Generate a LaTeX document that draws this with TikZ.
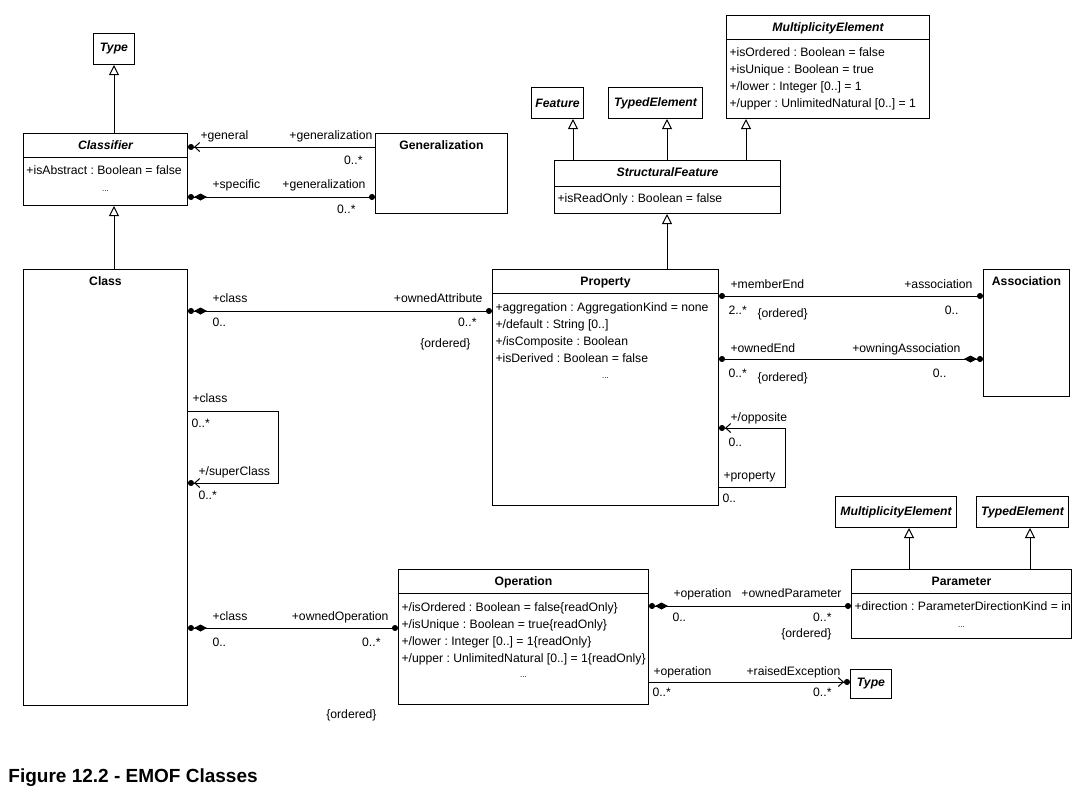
\documentclass[tikz,border=0pt]{standalone}
\usepackage{fontspec}
\setmainfont{Liberation Sans}
\usetikzlibrary{arrows.meta, positioning, calc}
\newcommand{\umlfont}{\fontsize{12.2}{14}\selectfont}
\frenchspacing

\tikzset{
  umlbox/.style={draw, anchor=north west, inner sep=0pt},
  ctitle/.style={font=\umlfont\bfseries, inner sep=0pt, text height=8.6pt, text depth=0pt},
  attr/.style={font=\umlfont, anchor=west, inner sep=0pt, text height=8.6pt, text depth=0pt},
  lblw/.style={attr, anchor=west},
  lble/.style={attr, anchor=east},
  inherit/.style={-{Triangle[open, length=10pt, width=10pt]}},
  umlown/.tip={Circle[length=6pt]},
  umlcomp/.tip={Diamond[length=13pt, width=7pt] Circle[length=6pt]},
  umlnav/.tip={Straight Barb[length=5pt, width=9pt] Circle[length=6pt]}
}

\begin{document}
\begin{tikzpicture}[x=1pt, y=-1pt, font=\umlfont, line width=1pt]
    \useasboundingbox (0,0) rectangle (1085,793);

    % Classifier side
    \node[umlbox, minimum width=41pt, minimum height=31pt, font=\umlfont\bfseries\itshape] (type) at (93,33) {Type};
    \node[umlbox, minimum width=164pt, minimum height=72pt] (classifier) at (23,133) {};
    \node[ctitle] (classifier-t) at ([yshift=-12pt]classifier.north) {\itshape Classifier};
    \draw ([yshift=-24pt]classifier.north west) -- ([yshift=-24pt]classifier.north east);
    \node[attr] (classifier-a1) at ([xshift=3pt,yshift=-37pt]classifier.north west) {+isAbstract : Boolean = false};
    \node[attr, anchor=center, font=\footnotesize] (classifier-a2) at ([yshift=-54pt]classifier.north) {...};

    \node[umlbox, minimum width=164pt, minimum height=436pt] (class) at (23,269) {};
    \node[ctitle] (class-t) at ([yshift=-12pt]class.north) {Class};

    \node[umlbox, minimum width=132pt, minimum height=80pt] (generalization) at (375,133) {};
    \node[ctitle] (generalization-t) at ([yshift=-12pt]generalization.north) {Generalization};

    \draw[inherit] (type.south |- classifier.north) -- (type.south);
    \draw[inherit] (type.south |- class.north) -- (type.south |- classifier.south);

    % StructuralFeature side
    \node[umlbox, minimum width=52pt, minimum height=31pt, font=\umlfont\bfseries\itshape] (feature) at (531,87) {Feature};
    \node[umlbox, minimum width=94pt, minimum height=31pt, font=\umlfont\bfseries\itshape] (typedelem) at (608,87) {TypedElement};
    \node[umlbox, minimum width=203pt, minimum height=103pt] (multelem) at (726,15) {};
    \node[ctitle] (multelem-t) at ([yshift=-12pt]multelem.north) {\itshape MultiplicityElement};
    \draw ([yshift=-24pt]multelem.north west) -- ([yshift=-24pt]multelem.north east);
    \foreach \t [count=\i] in {{+isOrdered : Boolean = false}, {+isUnique : Boolean = true},
        {+/lower : Integer [0..] = 1}, {+/upper : UnlimitedNatural [0..] = 1}}
      \node[attr] (multelem-a\i) at ([xshift=3pt,yshift={(-20-17*\i)*1pt}]multelem.north west) {\t};

    \node[umlbox, minimum width=226pt, minimum height=53pt] (structfeat) at (554,160) {};
    \node[ctitle] (structfeat-t) at ([yshift=-12pt]structfeat.north) {\itshape StructuralFeature};
    \draw ([yshift=-26pt]structfeat.north west) -- ([yshift=-26pt]structfeat.north east);
    \node[attr] (structfeat-a1) at ([xshift=3pt,yshift=-38pt]structfeat.north west) {+isReadOnly : Boolean = false};

    \draw[inherit] (573,0 |- structfeat.north) -- (573,0 |- feature.south);
    \draw[inherit] (667,0 |- structfeat.north) -- (667,0 |- typedelem.south);
    \draw[inherit] (746,0 |- structfeat.north) -- (746,0 |- multelem.south);

    % Property and Association
    \node[umlbox, minimum width=226pt, minimum height=236pt] (property) at (492,269) {};
    \node[ctitle] (property-t) at ([yshift=-12pt]property.north) {Property};
    \draw ([yshift=-24pt]property.north west) -- ([yshift=-24pt]property.north east);
    \foreach \t [count=\i] in {{+aggregation : AggregationKind = none}, {+/default : String [0..]},
        {+/isComposite : Boolean}, {+isDerived : Boolean = false}}
      \node[attr] (property-a\i) at ([xshift=3pt,yshift={(-21-17*\i)*1pt}]property.north west) {\t};
    \node[attr, anchor=center, font=\footnotesize] (property-a5) at ([yshift=-105pt]property.north) {...};
    \draw[inherit] (667,0 |- property.north) -- (667,0 |- structfeat.south);

    \node[umlbox, minimum width=86pt, minimum height=127pt] (association) at (983,269) {};
    \node[ctitle] (association-t) at ([yshift=-12pt]association.north) {Association};

    % Operation and Parameter
    \node[umlbox, minimum width=250pt, minimum height=135pt] (operation) at (398,569) {};
    \node[ctitle] (operation-t) at ([yshift=-12pt]operation.north) {Operation};
    \draw ([yshift=-24pt]operation.north west) -- ([yshift=-24pt]operation.north east);
    \foreach \t [count=\i] in {{+/isOrdered : Boolean = false\{readOnly\}}, {+/isUnique : Boolean = true\{readOnly\}},
        {+/lower : Integer [0..] = 1\{readOnly\}}, {+/upper : UnlimitedNatural [0..] = 1\{readOnly\}}}
      \node[attr] (operation-a\i) at ([xshift=3pt,yshift={(-21-17*\i)*1pt}]operation.north west) {\t};
    \node[attr, anchor=center, font=\footnotesize] (operation-a5) at ([yshift=-104pt]operation.north) {...};

    \node[umlbox, minimum width=121pt, minimum height=31pt, font=\umlfont\bfseries\itshape] (multelem2) at (835,496) {MultiplicityElement};
    \node[umlbox, minimum width=92pt, minimum height=31pt, font=\umlfont\bfseries\itshape] (typedelem2) at (976,496) {TypedElement};
    \node[umlbox, minimum width=220pt, minimum height=69pt] (parameter) at (851,569) {};
    \node[ctitle] (parameter-t) at ([yshift=-12pt]parameter.north) {Parameter};
    \draw ([yshift=-24pt]parameter.north west) -- ([yshift=-24pt]parameter.north east);
    \begin{scope}
      \clip (parameter.north west) rectangle (parameter.south east);
      \node[attr] (parameter-a1) at ([xshift=3pt,yshift=-37pt]parameter.north west) {+direction : ParameterDirectionKind = in};
    \end{scope}
    \node[attr, anchor=center, font=\footnotesize] (parameter-a2) at ([yshift=-54pt]parameter.north) {...};
    \draw[inherit] (909,0 |- parameter.north) -- (909,0 |- multelem2.south);
    \draw[inherit] (1030,0 |- parameter.north) -- (1030,0 |- typedelem2.south);

    \node[umlbox, minimum width=41pt, minimum height=29pt, font=\umlfont\bfseries\itshape] (type2) at (850,669) {Type};

    % Associations
    \draw[-umlnav] (generalization.west |- 0,147) -- (classifier.east |- 0,147);
    \draw[umlown-umlcomp] (generalization.west |- 0,197) -- (classifier.east |- 0,197);
    \draw[umlown-umlcomp] (property.west |- 0,311) -- (class.east |- 0,311);
    \coordinate (sc-corner) at (278,483);
    \draw[-umlnav] (class.east |- 0,411) -| (sc-corner) -- (class.east |- sc-corner);
    \draw[umlown-umlown] (property.east |- 0,296) -- (association.west |- 0,296);
    \draw[umlown-umlcomp] (property.east |- 0,359) -- (association.west |- 0,359);
    \coordinate (op-corner) at (785,428);
    \draw[-umlnav] (property.east |- 0,487) -| (op-corner) -- (property.east |- op-corner);
    \draw[umlown-umlcomp] (operation.west |- 0,628) -- (class.east |- 0,628);
    \draw[umlown-umlcomp] (parameter.west |- 0,606) -- (operation.east |- 0,606);
    \draw[-umlnav] (operation.east |- 0,682) -- (type2.west |- 0,682);

    % Role names and multiplicities
    \node[lblw] (l-general) at (200,135) {+general};
    \node[lble] (l-gen1) at (373,135) {+generalization};
    \node[lble] (m-gen1) at (363,160) {0..*};
    \node[lblw] (l-specific) at (212,184) {+specific};
    \node[lble] (l-gen2) at (366,184) {+generalization};
    \node[lble] (m-gen2) at (356,209) {0..*};

    \node[lblw] (l-class1) at (212,298) {+class};
    \node[lblw] (m-class1) at (212,322) {0..};
    \node[lble] (l-ownedattr) at (483,298) {+ownedAttribute};
    \node[lble] (m-ownedattr) at (477,322) {0..*};
    \node[lble] (o-ownedattr) at (471,343) {\{ordered\}};

    \node[lblw] (l-class2) at (192,398) {+class};
    \node[lblw] (m-class2) at (191,423) {0..*};
    \node[lblw] (l-superclass) at (198,471) {+/superClass};
    \node[lblw] (m-superclass) at (198,495) {0..*};

    \node[lblw] (l-memberend) at (730,284) {+memberEnd};
    \node[lblw] (m-memberend) at (728,310) {2..*};
    \node[lblw] (o-memberend) at (757,313) {\{ordered\}};
    \node[lble] (l-assoc) at (973,284) {+association};
    \node[lble] (m-assoc) at (959,310) {0..};

    \node[lblw] (l-ownedend) at (730,348) {+ownedEnd};
    \node[lblw] (m-ownedend) at (728,373) {0..*};
    \node[lblw] (o-ownedend) at (757,377) {\{ordered\}};
    \node[lble] (l-owningassoc) at (961,348) {+owningAssociation};
    \node[lble] (m-owningassoc) at (947,373) {0..};

    \node[lblw] (l-opposite) at (730,417) {+/opposite};
    \node[lblw] (m-opposite) at (728,442) {0..};
    \node[lblw] (l-property) at (723,475) {+property};
    \node[lblw] (m-property) at (722,498) {0..};

    \node[lblw] (l-class3) at (212,616) {+class};
    \node[lblw] (m-class3) at (212,642) {0..};
    \node[lble] (l-ownedop) at (389,616) {+ownedOperation};
    \node[lble] (m-ownedop) at (381,642) {0..*};
    \node[lble] (o-ownedop) at (377,714) {\{ordered\}};

    \node[lblw] (l-operation1) at (673,593) {+operation};
    \node[lblw] (m-operation1) at (672,617) {0..};
    \node[lble] (l-ownedparam) at (842,593) {+ownedParameter};
    \node[lble] (m-ownedparam) at (832,617) {0..*};
    \node[lble] (o-ownedparam) at (832,633) {\{ordered\}};

    \node[lblw] (l-operation2) at (653,671) {+operation};
    \node[lblw] (m-operation2) at (652,692) {0..*};
    \node[lble] (l-raised) at (841,671) {+raisedException};
    \node[lble] (m-raised) at (832,692) {0..*};

    % Caption
    \node[anchor=west, inner sep=0pt, text height=13.7pt, text depth=0pt, font=\fontsize{19}{22}\selectfont\bfseries] (caption) at (8,776) {Figure 12.2 - EMOF Classes};
\end{tikzpicture}
\end{document}
